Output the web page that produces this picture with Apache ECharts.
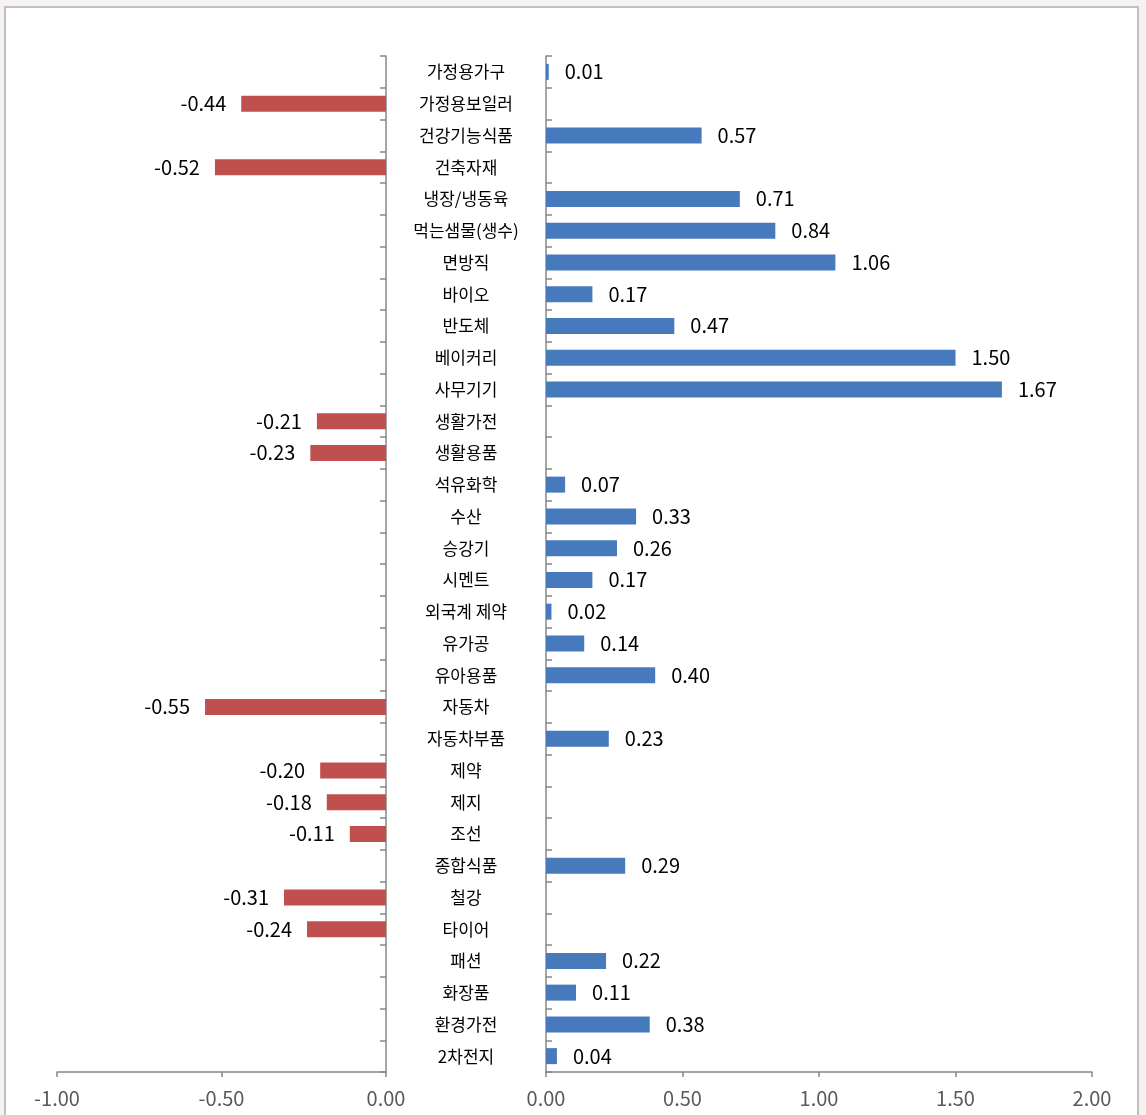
<!DOCTYPE html>
<html><head><meta charset="utf-8">
<script src="https://cdn.jsdelivr.net/npm/echarts@6/dist/echarts.min.js"></script>
<style>html,body{margin:0;padding:0;background:#f7f2f2;}#c{width:1146px;height:1115px;}</style>
</head><body><div id="c"></div>
<script>
const categories = ['가정용가구','가정용보일러','건강기능식품','건축자재','냉장/냉동육','먹는샘물(생수)','면방직','바이오','반도체','베이커리','사무기기','생활가전','생활용품','석유화학','수산','승강기','시멘트','외국계 제약','유가공','유아용품','자동차','자동차부품','제약','제지','조선','종합식품','철강','타이어','패션','화장품','환경가전','2차전지'];
const values = [0.01,-0.44,0.57,-0.52,0.71,0.84,1.06,0.17,0.47,1.50,1.67,-0.21,-0.23,0.07,0.33,0.26,0.17,0.02,0.14,0.40,-0.55,0.23,-0.20,-0.18,-0.11,0.29,-0.31,-0.24,0.22,0.11,0.38,0.04];
const negValues = values.map(v => v < 0 ? v : null);
const posValues = values.map(v => v >= 0 ? v : null);
const leftTicks = [-1, -0.5, 0];
const rightTicks = [0, 0.5, 1, 1.5, 2];

const FONT = '"Noto Sans CJK KR", "Noto Sans", sans-serif';
const axisColor = '#888888';
const chart = echarts.init(document.getElementById('c'), null, {renderer:'canvas'});
chart.setOption({
  backgroundColor: '#f7f2f2',
  animation: false,
  textStyle: {fontFamily: FONT},
  graphic: [{type:'rect', z:-10, silent:true, shape:{x:5,y:7,width:1133,height:1125}, style:{fill:'#ffffff', stroke:'#c0c0c0', lineWidth:2}}],
  grid: [
    {left:57, right:1146-386, top:56, bottom:1115-1072, containLabel:false},
    {left:546, right:1146-1092, top:56, bottom:1115-1072, containLabel:false}
  ],
  xAxis: [
    {gridIndex:0, type:'value', min:leftTicks[0], max:leftTicks[leftTicks.length-1], interval:0.5,
     axisLine:{show:true, lineStyle:{color:axisColor, width:1.5}}, axisTick:{show:true, length:5, lineStyle:{color:axisColor, width:1.5}},
     splitLine:{show:false}, axisLabel:{color:'#595959', fontSize:20, fontFamily:FONT, margin:16, formatter:v=>v.toFixed(2)}},
    {gridIndex:1, type:'value', min:rightTicks[0], max:rightTicks[rightTicks.length-1], interval:0.5,
     axisLine:{show:true, lineStyle:{color:axisColor, width:1.5}}, axisTick:{show:true, length:5, lineStyle:{color:axisColor, width:1.5}},
     splitLine:{show:false}, axisLabel:{color:'#595959', fontSize:20, fontFamily:FONT, margin:16, formatter:v=>v.toFixed(2)}}
  ],
  yAxis: [
    {gridIndex:0, type:'category', data:categories, inverse:true, position:'right',
     axisLine:{show:true, lineStyle:{color:axisColor, width:1.5}}, axisTick:{show:true, inside:true, length:6, lineStyle:{color:axisColor, width:1.5}},
     axisLabel:{show:true, color:'#000', fontSize:17, fontFamily:FONT, align:'center', margin:80}},
    {gridIndex:1, type:'category', data:categories, inverse:true, position:'left',
     axisLine:{show:true, lineStyle:{color:axisColor, width:1.5}}, axisTick:{show:true, inside:true, length:6, lineStyle:{color:axisColor, width:1.5}},
     axisLabel:{show:false}}
  ],
  series: [
    {type:'bar', xAxisIndex:0, yAxisIndex:0, data:negValues, barWidth:16, itemStyle:{color:'#C0504D'},
     label:{show:true, position:'left', distance:15, color:'#000', fontSize:20, fontFamily:FONT, formatter:p=>p.value==null?'':p.value.toFixed(2)}},
    {type:'bar', xAxisIndex:1, yAxisIndex:1, data:posValues, barWidth:16, itemStyle:{color:'#4779BD'},
     label:{show:true, position:'right', distance:16, color:'#000', fontSize:20, fontFamily:FONT, formatter:p=>p.value==null?'':p.value.toFixed(2)}}
  ]
});
</script></body></html>
